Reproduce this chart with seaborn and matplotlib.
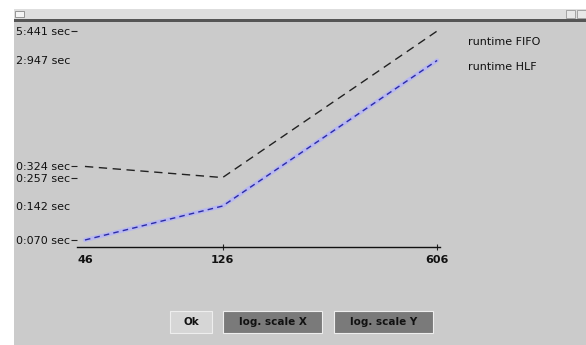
import numpy as np
import pandas as pd
import seaborn as sns
import matplotlib
import matplotlib.pyplot as plt
from matplotlib.patches import Rectangle

plt.switch_backend('Agg')

# data
sizes = [46, 126, 606]
runtime_fifo = [0.324, 0.257, 5.441]
runtime_hlf = [0.070, 0.142, 2.947]
ytick_vals = [0.070, 0.142, 0.257, 0.324, 2.947, 5.441]
ytick_labels = ["0:070 sec", "0:142 sec", "0:257 sec", "0:324 sec", "2:947 sec", "5:441 sec"]
series_names = ["runtime FIFO", "runtime HLF"]
buttons = ["Ok", "log. scale X", "log. scale Y"]

sns.set_style("white")
matplotlib.rcParams['font.family'] = ["DejaVu Sans"]
matplotlib.rcParams['text.color'] = "#111111"
matplotlib.rcParams['xtick.color'] = "#111111"
matplotlib.rcParams['ytick.color'] = "#111111"

W, H = 586, 345
bg = "#cbcbcb"
fig = plt.figure(figsize=(W / 100, H / 100), dpi=100, facecolor="white")

def px(x0, y0, x1, y1, **kw):
    # rectangle given in screenshot pixels (origin top-left)
    fig.patches.append(Rectangle((x0 / W, 1 - y1 / H), (x1 - x0) / W, (y1 - y0) / H,
                                 transform=fig.transFigure, figure=fig, zorder=-1, **kw))

# window frame
px(14, 9, W, H, facecolor=bg, edgecolor="none")
px(14, 9, W, 20, facecolor="#dedede", edgecolor="none")
px(14, 19.5, W, 22, facecolor="#555555", edgecolor="none")
px(15, 11, 24, 17, facecolor="#f4f4f4", edgecolor="#888888", linewidth=0.6)
px(566, 10, 575, 18, facecolor="#e8e8e8", edgecolor="#999999", linewidth=0.6)
px(577, 10, 586, 18, facecolor="#e8e8e8", edgecolor="#999999", linewidth=0.6)

df = pd.DataFrame({
    "size": sizes * 2,
    "runtime": runtime_fifo + runtime_hlf,
    "series": [series_names[0]] * 3 + [series_names[1]] * 3,
})

ax = fig.add_axes([77 / W, 1 - 247 / H, (440 - 77) / W, (247 - 25) / H])
ax.patch.set_alpha(0)

# light halo under the HLF line
sns.lineplot(data=df[df.series == series_names[1]], x="size", y="runtime", ax=ax,
             color="#b8b8ee", linewidth=3.0, legend=False)
sns.lineplot(data=df, x="size", y="runtime", hue="series", ax=ax,
             palette=["#222222", "#2a2aa8"], linewidth=1.0, legend=False)
ax.lines[1].set_dashes([6, 4])
ax.lines[2].set_dashes([4, 3])

ax.set_xscale("log")
ax.set_yscale("log")
ax.set_xlim(43.4, 619)
ax.set_ylim(0.0605, 6.17)

ax.set_xticks(sizes)
ax.set_xticklabels([str(s) for s in sizes], fontsize=8, fontweight="bold")
ax.xaxis.set_minor_locator(matplotlib.ticker.NullLocator())
ax.set_yticks(ytick_vals)
ax.set_yticklabels(ytick_labels, fontsize=8)
ax.yaxis.set_minor_locator(matplotlib.ticker.NullLocator())
ax.tick_params(axis="y", left=True, length=4, width=0.8, pad=1, direction="out", color="#222222")
ax.tick_params(axis="x", bottom=True, length=4, width=0.8, pad=4, direction="inout", color="#222222")
for i in (1, 4):
    ax.yaxis.get_major_ticks()[i].tick1line.set_visible(False)
ax.xaxis.get_major_ticks()[0].tick1line.set_visible(False)
ax.set_xlabel("")
ax.set_ylabel("")

for side in ("top", "right", "left"):
    ax.spines[side].set_visible(False)
ax.spines["bottom"].set_color("#111111")
ax.spines["bottom"].set_linewidth(1.0)

# text-only legend
for i, name in enumerate(series_names):
    fig.text(468 / W, 1 - (42 + 25 * i) / H, name, fontsize=8, va="center", ha="left")

# buttons
for (x0, x1, face), label in zip([(170, 212, "#d6d6d6"), (223, 322, "#7a7a7a"),
                                  (334, 433, "#7a7a7a")], buttons):
    fig.patches.append(Rectangle((x0 / W, 1 - 333 / H), (x1 - x0) / W, 22 / H,
                                 transform=fig.transFigure, figure=fig,
                                 facecolor=face, edgecolor="#eeeeee", linewidth=0.8))
    fig.text((x0 + x1) / 2 / W, 1 - 322 / H, label, fontsize=7.5, fontweight="bold",
             ha="center", va="center", color="#111111")

fig.savefig("out.png", dpi=100, facecolor="white")
